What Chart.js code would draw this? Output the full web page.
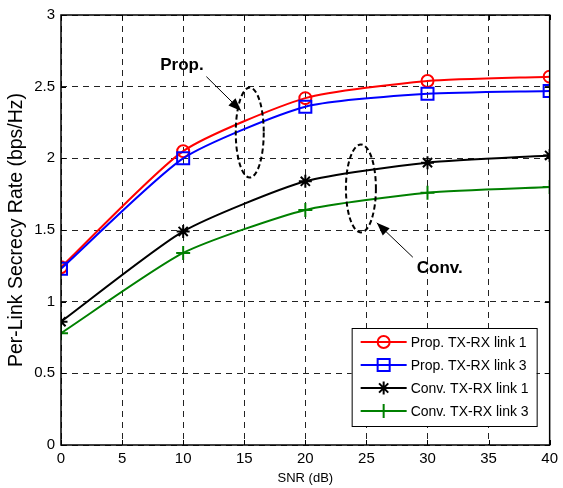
<!DOCTYPE html>
<html>
<head>
<meta charset="utf-8">
<script src="https://cdn.jsdelivr.net/npm/chart.js@4/dist/chart.umd.min.js"></script>
<style>
  html, body { margin: 0; padding: 0; background: #fff; }
</style>
</head>
<body>
<canvas id="chartCanvas" width="563" height="488"></canvas>
<script>
// --- Data ---
const snr = [0, 10, 20, 30, 40];
const propLink1 = [1.24, 2.05, 2.42, 2.54, 2.57];
const propLink3 = [1.23, 2.00, 2.36, 2.45, 2.47];
const convLink1 = [0.86, 1.49, 1.84, 1.97, 2.02];
const convLink3 = [0.78, 1.34, 1.64, 1.76, 1.80];
const seriesLabels = ["Prop. TX-RX link 1", "Prop. TX-RX link 3", "Conv. TX-RX link 1", "Conv. TX-RX link 3"];
const xTicks = [0, 5, 10, 15, 20, 25, 30, 35, 40];
const yTicks = [0, 0.5, 1, 1.5, 2, 2.5, 3];

const FONT = "'Liberation Sans', Arial, sans-serif";

const toPoints = ys => snr.map((x, i) => ({ x, y: ys[i] }));

const makeSet = (label, ys, color, style, radius, order) => ({
  label,
  data: toPoints(ys),
  borderColor: color,
  backgroundColor: color,
  borderWidth: 2,
  pointStyle: style,
  pointRadius: radius,
  pointHoverRadius: radius,
  pointBorderWidth: 2,
  pointBackgroundColor: "rgba(0,0,0,0)",
  pointBorderColor: color,
  tension: 0.2,
  order
});

// --- Annotations (data coords) ---
const ellipses = [
  { x: 15.45, y: 2.18, rx: 14, ry: 45 },
  { x: 24.55, y: 1.79, rx: 15, ry: 44 }
];
const arrows = [
  { from: [11.9, 2.57], to: [14.75, 2.33] },
  { from: [28.8, 1.31], to: [25.85, 1.55] }
];
const notes = [
  { text: "Prop.", x: 9.9, y: 2.65 },
  { text: "Conv.", x: 31.0, y: 1.235 }
];

const decorations = {
  id: "decorations",
  afterDraw(chart) {
    const { ctx, chartArea: a, scales: { x, y } } = chart;
    ctx.save();

    // inward tick marks
    ctx.strokeStyle = "#000";
    ctx.lineWidth = 1;
    ctx.setLineDash([]);
    ctx.beginPath();
    xTicks.forEach(t => {
      const px = Math.round(x.getPixelForValue(t)) + 0.5;
      ctx.moveTo(px, a.bottom); ctx.lineTo(px, a.bottom - 5);
      ctx.moveTo(px, a.top); ctx.lineTo(px, a.top + 5);
    });
    yTicks.forEach(t => {
      const py = Math.round(y.getPixelForValue(t)) + 0.5;
      ctx.moveTo(a.left, py); ctx.lineTo(a.left + 5, py);
      ctx.moveTo(a.right, py); ctx.lineTo(a.right - 5, py);
    });
    ctx.stroke();

    // axes box
    ctx.lineWidth = 1.5;
    ctx.strokeRect(a.left, a.top, a.right - a.left, a.bottom - a.top);

    // dashed ellipses
    ctx.lineWidth = 2;
    ctx.setLineDash([5, 3]);
    ellipses.forEach(e => {
      ctx.beginPath();
      ctx.ellipse(x.getPixelForValue(e.x), y.getPixelForValue(e.y), e.rx, e.ry, 0, 0, Math.PI * 2);
      ctx.stroke();
    });
    ctx.setLineDash([]);

    // arrows
    ctx.lineWidth = 1;
    ctx.fillStyle = "#000";
    arrows.forEach(ar => {
      const x0 = x.getPixelForValue(ar.from[0]), y0 = y.getPixelForValue(ar.from[1]);
      const x1 = x.getPixelForValue(ar.to[0]), y1 = y.getPixelForValue(ar.to[1]);
      const ang = Math.atan2(y1 - y0, x1 - x0);
      ctx.beginPath();
      ctx.moveTo(x0, y0); ctx.lineTo(x1, y1);
      ctx.stroke();
      const len = 13, w = 5;
      ctx.beginPath();
      ctx.moveTo(x1, y1);
      ctx.lineTo(x1 - len * Math.cos(ang) + w * Math.sin(ang), y1 - len * Math.sin(ang) - w * Math.cos(ang));
      ctx.lineTo(x1 - len * Math.cos(ang) - w * Math.sin(ang), y1 - len * Math.sin(ang) + w * Math.cos(ang));
      ctx.closePath();
      ctx.fill();
    });

    // text notes
    ctx.font = "bold 17px " + FONT;
    ctx.textAlign = "center";
    ctx.textBaseline = "middle";
    notes.forEach(n => ctx.fillText(n.text, x.getPixelForValue(n.x), y.getPixelForValue(n.y)));

    // legend box
    const bx = a.right - 198, by = a.bottom - 117, bw = 185, bh = 98;
    ctx.fillStyle = "#fff";
    ctx.fillRect(bx, by, bw, bh);
    ctx.lineWidth = 1;
    ctx.strokeStyle = "#000";
    ctx.strokeRect(bx + 0.5, by + 0.5, bw, bh);
    ctx.font = "14px " + FONT;
    ctx.textAlign = "left";
    const legendOrder = [0, 1, 2, 3];
    legendOrder.forEach((idx, row) => {
      const ds = chart.data.datasets[idx];
      const ly = by + 14 + row * 23;
      ctx.strokeStyle = ds.borderColor;
      ctx.lineWidth = 2;
      ctx.beginPath();
      ctx.moveTo(bx + 9, ly); ctx.lineTo(bx + 55, ly);
      ctx.stroke();
      ctx.fillStyle = "rgba(0,0,0,0)";
      Chart.helpers.drawPoint(ctx, {
        pointStyle: ds.pointStyle, radius: ds.pointRadius, rotation: 0, borderWidth: 2
      }, bx + 32, ly);
      ctx.fillStyle = "#000";
      ctx.fillText(ds.label, bx + 59, ly + 1);
    });

    ctx.restore();
  }
};

new Chart(document.getElementById("chartCanvas"), {
  type: "line",
  data: {
    datasets: [
      makeSet(seriesLabels[0], propLink1, "#ff0000", "circle", 6, 3),
      makeSet(seriesLabels[1], propLink3, "#0000ff", "rect", 8.5, 2),
      makeSet(seriesLabels[2], convLink1, "#000000", "star", 6.5, 1),
      makeSet(seriesLabels[3], convLink3, "#008000", "cross", 7, 0)
    ]
  },
  options: {
    responsive: false,
    animation: false,
    devicePixelRatio: 1,
    layout: { padding: { left: 0, top: 15, right: 10, bottom: 0 } },
    plugins: { legend: { display: false }, tooltip: { enabled: false } },
    scales: {
      x: {
        type: "linear",
        min: 0, max: 40,
        afterBuildTicks: s => { s.ticks = xTicks.map(v => ({ value: v })); },
        afterFit: s => { s.height = 43; },
        grid: { color: "#222", lineWidth: 1, drawTicks: false },
        border: { display: false, dash: [6, 5] },
        ticks: { color: "#000", font: { family: FONT, size: 15 }, padding: 5, maxRotation: 0, callback: v => String(v) },
        title: { display: true, text: "SNR (dB)", color: "#000", font: { family: FONT, size: 13 }, padding: { top: 0, bottom: 2 } }
      },
      y: {
        min: 0, max: 3,
        afterBuildTicks: s => { s.ticks = yTicks.map(v => ({ value: v })); },
        afterFit: s => { s.width = 61; },
        grid: { color: "#222", lineWidth: 1, drawTicks: false },
        border: { display: false, dash: [6, 5] },
        ticks: { color: "#000", font: { family: FONT, size: 15 }, padding: 6, callback: v => String(v) },
        title: { display: true, text: "Per-Link Secrecy Rate (bps/Hz)", color: "#000", font: { family: FONT, size: 19.5 }, padding: { top: 5, bottom: 0 } }
      }
    }
  },
  plugins: [decorations]
});
</script>
</body>
</html>
